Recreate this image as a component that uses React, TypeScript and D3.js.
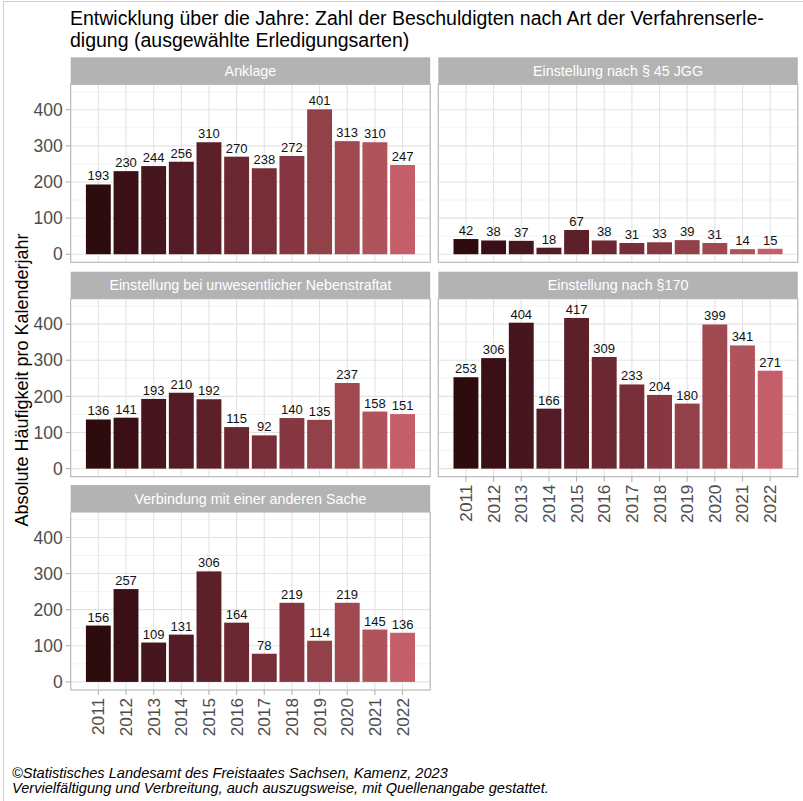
import React from 'react';
import * as d3 from 'd3';

const years = ['2011', '2012', '2013', '2014', '2015', '2016', '2017', '2018', '2019', '2020', '2021', '2022'];
const panelTitles = [
  'Anklage',
  'Einstellung nach § 45 JGG',
  'Einstellung bei unwesentlicher Nebenstraftat',
  'Einstellung nach §170',
  'Verbindung mit einer anderen Sache',
];
const anklage = [193, 230, 244, 256, 310, 270, 238, 272, 401, 313, 310, 247];
const jgg45 = [42, 38, 37, 18, 67, 38, 31, 33, 39, 31, 14, 15];
const nebenstraftat = [136, 141, 193, 210, 192, 115, 92, 140, 135, 237, 158, 151];
const par170 = [253, 306, 404, 166, 417, 309, 233, 204, 180, 399, 341, 271];
const verbindung = [156, 257, 109, 131, 306, 164, 78, 219, 114, 219, 145, 136];
const yTicks = [0, 100, 200, 300, 400];
const yMinor = [50, 150, 250, 350, 450];

const barColors = ['#2e0b0d', '#3a1016', '#46161e', '#521b25', '#5d2029', '#6b2832', '#782e38', '#863741', '#934149', '#a0484f', '#b0545c', '#c45f69'];

const W = 803, H = 801;
const colX = [70.7, 438.3];
const panelW = 359.5;
const rowTop = [57.3, 271.7, 485];
const stripH = 27;
const panelH = 178;
const font = '"Liberation Sans", Arial, sans-serif';

const x = d3.scaleBand<string>().domain(years).range([0, panelW]).paddingInner(0.1).paddingOuter(0.55);
const y = d3.scaleLinear().domain([-22.4, 470.4]).range([panelH, 0]);

const series = [anklage, jgg45, nebenstraftat, par170, verbindung];
const grid = [[0, 0], [1, 0], [0, 1], [1, 1], [0, 2]];

function Panel({ idx }: { idx: number }) {
  const [c, r] = grid[idx];
  const values = series[idx];
  const px = colX[c];
  const py = rowTop[r] + stripH;
  const showY = c === 0;
  const showX = idx === 3 || idx === 4;
  const bw = x.bandwidth();
  return (
    <g>
      <rect x={px} y={rowTop[r]} width={panelW} height={stripH} fill="#b3b3b3" />
      <text x={px + panelW / 2} y={rowTop[r] + stripH / 2 + 5} textAnchor="middle" fill="#ffffff" fontSize={14.3} fontFamily={font}>
        {panelTitles[idx]}
      </text>
      <g transform={`translate(${px},${py})`}>
        {yMinor.map(v => (
          <line key={'m' + v} x1={0} x2={panelW} y1={y(v)} y2={y(v)} stroke="#f0f0f0" strokeWidth={0.8} />
        ))}
        {yTicks.map(v => (
          <line key={'g' + v} x1={0} x2={panelW} y1={y(v)} y2={y(v)} stroke="#e3e3e3" strokeWidth={1.1} />
        ))}
        {years.map(yr => (
          <line key={'v' + yr} x1={x(yr)! + bw / 2} x2={x(yr)! + bw / 2} y1={0} y2={panelH} stroke="#e3e3e3" strokeWidth={1.1} />
        ))}
        {values.map((v, i) => (
          <rect key={'b' + i} x={x(years[i])} y={y(v)} width={bw} height={y(0) - y(v)} fill={barColors[i]} />
        ))}
        {values.map((v, i) => (
          <text key={'t' + i} x={x(years[i])! + bw / 2} y={y(v) - 4} textAnchor="middle" fontSize={13} fontFamily={font} fill="#111">
            {v}
          </text>
        ))}
        <rect x={0} y={0} width={panelW} height={panelH} fill="none" stroke="#b3b3b3" strokeWidth={1.1} />
        {showY && yTicks.map(v => (
          <g key={'yt' + v}>
            <line x1={-5} x2={0} y1={y(v)} y2={y(v)} stroke="#b3b3b3" strokeWidth={1.1} />
            <text x={-8} y={y(v) + 6.2} textAnchor="end" fontSize={17.5} fontFamily={font} fill="#4d4d4d">{v}</text>
          </g>
        ))}
        {showX && years.map(yr => (
          <g key={'xt' + yr}>
            <line x1={x(yr)! + bw / 2} x2={x(yr)! + bw / 2} y1={panelH} y2={panelH + 5} stroke="#b3b3b3" strokeWidth={1.1} />
            <text transform={`translate(${x(yr)! + bw / 2 + 6},${panelH + 8}) rotate(-90)`} textAnchor="end" fontSize={17.2} fontFamily={font} fill="#4d4d4d">{yr}</text>
          </g>
        ))}
      </g>
    </g>
  );
}

export default function App() {
  return (
    <svg width={W} height={H} style={{ display: 'block', position: 'absolute', left: 0, top: 0 }}>
      <rect x={0} y={0} width={W} height={H} fill="#ffffff" />
      <line x1={3} x2={W} y1={1.5} y2={1.5} stroke="#cfcfcf" strokeWidth={1} />
      <line x1={3.5} x2={3.5} y1={1.5} y2={H} stroke="#cfcfcf" strokeWidth={1} />
      <text x={70} y={25} fontSize={19.5} fontFamily={font} fill="#000">
        Entwicklung über die Jahre: Zahl der Beschuldigten nach Art der Verfahrenserle-
      </text>
      <text x={70} y={46.5} fontSize={19.5} fontFamily={font} fill="#000">
        digung (ausgewählte Erledigungsarten)
      </text>
      {panelTitles.map((_, i) => <Panel key={i} idx={i} />)}
      <text transform="translate(28,380) rotate(-90)" textAnchor="middle" fontSize={18} fontFamily={font} fill="#000">
        Absolute Häufigkeit pro Kalenderjahr
      </text>
      <text x={12} y={778} fontSize={14.6} fontStyle="italic" fontFamily={font} fill="#000">
        ©Statistisches Landesamt des Freistaates Sachsen, Kamenz, 2023
      </text>
      <text x={12} y={793} fontSize={14.6} fontStyle="italic" fontFamily={font} fill="#000">
        Vervielfältigung und Verbreitung, auch auszugsweise, mit Quellenangabe gestattet.
      </text>
    </svg>
  );
}
